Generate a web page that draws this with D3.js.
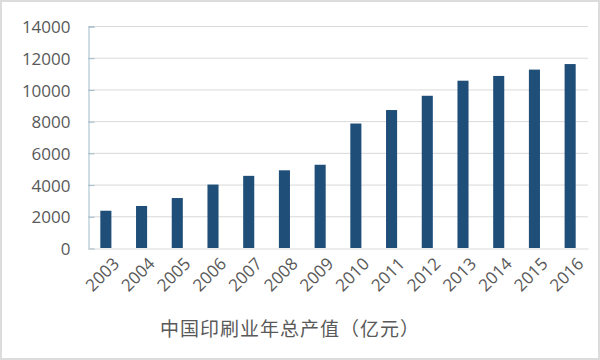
<!DOCTYPE html>
<html>
<head>
<meta charset="utf-8">
<script src="https://cdn.jsdelivr.net/npm/d3@7"></script>
<style>
  body { margin: 0; background: #fff; }
  #chart-div svg { display: block; }
</style>
</head>
<body>
<div id="chart-div"></div>
<script>
const years = ['2003', '2004', '2005', '2006', '2007', '2008', '2009', '2010', '2011', '2012', '2013', '2014', '2015', '2016'];
const output = [2350, 2650, 3150, 4000, 4550, 4900, 5250, 7850, 8700, 9600, 10550, 10850, 11250, 11600];
const yTicks = [0, 2000, 4000, 6000, 8000, 10000, 12000, 14000];
const title = '中国印刷业年总产值（亿元）';

const w = 600;
const h = 360;
const plotLeft = 88;
const plotRight = 588;
const plotTop = 26;
const plotBottom = 248;

const svg = d3.select('#chart-div')
              .append('svg')
              .attr('width', w)
              .attr('height', h);

// outer frame
svg.append('rect')
   .attr('x', 1)
   .attr('y', 1)
   .attr('width', w - 2)
   .attr('height', h - 2)
   .attr('fill', '#fff')
   .attr('stroke', '#dcdcdc')
   .attr('stroke-width', 2);

const xScale = d3.scaleBand()
                 .domain(years)
                 .range([plotLeft, plotRight])
                 .paddingInner(0.69)
                 .paddingOuter(0.345);

const yScale = d3.scaleLinear()
                 .domain([0, 14000])
                 .range([plotBottom, plotTop]);

// gridlines
svg.append('g')
   .selectAll('line')
   .data(yTicks.slice(1))
   .enter()
   .append('line')
   .attr('x1', plotLeft)
   .attr('x2', plotRight)
   .attr('y1', d => yScale(d) + 0.5)
   .attr('y2', d => yScale(d) + 0.5)
   .attr('stroke', '#d9d9d9')
   .attr('stroke-width', 1);

// y axis
const yAxis = d3.axisRight(yScale)
                .tickValues(yTicks)
                .tickSize(6)
                .tickFormat(d => d);

const yG = svg.append('g')
              .attr('transform', `translate(${plotLeft + 0.5}, 0.5)`)
              .call(yAxis);
yG.select('.domain').attr('stroke', '#9fbccb');
yG.selectAll('.tick line').attr('stroke', '#9fbccb');
yG.selectAll('.tick text')
  .attr('x', -18)
  .attr('text-anchor', 'end')
  .attr('dy', '0.36em')
  .style('font-family', '"Open Sans", sans-serif')
  .style('font-size', '17px')
  .attr('fill', '#595959');

// bars
svg.selectAll('.bar')
   .data(years)
   .enter()
   .append('rect')
   .attr('class', 'bar')
   .attr('x', d => xScale(d))
   .attr('width', xScale.bandwidth())
   .attr('y', (d, i) => yScale(output[i]))
   .attr('height', (d, i) => plotBottom - yScale(output[i]))
   .attr('fill', '#1f4e79');

// x axis
const xAxis = d3.axisBottom(xScale).tickSize(0);
const xG = svg.append('g')
              .attr('transform', `translate(0, ${plotBottom + 0.5})`)
              .call(xAxis);
xG.select('.domain').attr('stroke', '#d9d9d9');
xG.selectAll('.tick text')
  .attr('text-anchor', 'end')
  .attr('transform', 'translate(6, 8) rotate(-45)')
  .attr('dy', '0.7em')
  .attr('y', 0)
  .style('font-family', '"Open Sans", sans-serif')
  .style('font-size', '17px')
  .attr('fill', '#595959');

svg.append('text')
   .attr('x', 290)
   .attr('y', 336)
   .attr('text-anchor', 'middle')
   .style('font-family', '"Noto Sans CJK SC", sans-serif')
   .style('font-size', '19px')
   .style('letter-spacing', '1px')
   .attr('fill', '#595959')
   .text(title);
</script>
</body>
</html>
